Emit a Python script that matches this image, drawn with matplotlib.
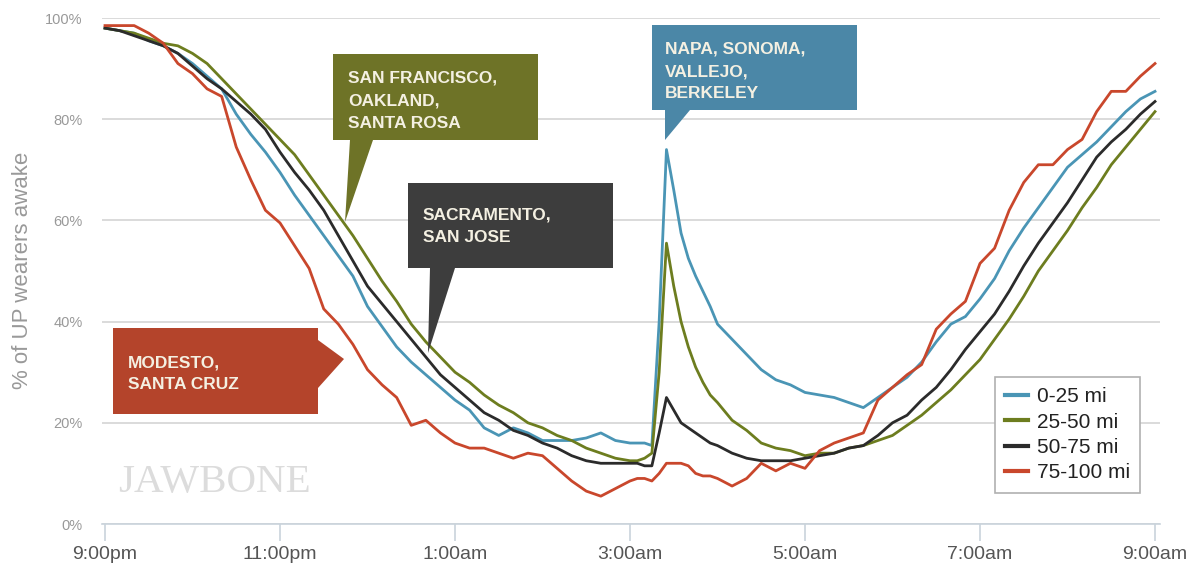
import matplotlib
matplotlib.use('Agg')
import matplotlib.pyplot as plt
from matplotlib.patches import Polygon
from matplotlib import font_manager

plt.rcParams['font.family'] = ['Liberation Sans', 'DejaVu Sans']

# minutes after 9:00pm
minutes = [0, 10, 20, 30, 40, 50, 60, 70, 80, 90, 100, 110, 120, 130, 140, 150, 160, 170,
           180, 190, 200, 210, 220, 230, 240, 250, 260, 270, 280, 290, 300, 310, 320, 330, 340, 350,
           360, 365, 370, 375, 380, 385, 390, 395, 400, 405, 410, 415, 420,
           430, 440, 450, 460, 470, 480, 490, 500, 510, 520, 530, 540, 550, 560, 570, 580,
           590, 600, 610, 620, 630, 640, 650, 660, 670, 680, 690, 700, 710, 720]

mi_0_25 = [98, 97.5, 97, 95.5, 94.5, 93, 91, 88.5, 86, 81, 77, 73.5, 69.5, 65, 61, 57, 53, 49,
           43, 39, 35, 32, 29.5, 27, 24.5, 22.5, 19, 17.5, 19, 18, 16.5, 16.5, 16.5, 17, 18, 16.5,
           16, 16, 16, 15.5, 40, 74, 66, 57.5, 52.5, 49, 46, 43, 39.5,
           36.5, 33.5, 30.5, 28.5, 27.5, 26, 25.5, 25, 24, 23, 25, 27, 29, 32, 36, 39.5,
           41, 44.5, 48.5, 54, 58.5, 62.5, 66.5, 70.5, 73, 75.5, 78.5, 81.5, 84, 85.5]

mi_25_50 = [98, 97.5, 97, 96, 95, 94.5, 93, 91, 88, 85, 82, 79, 76, 73, 69, 65, 61, 57,
            52.5, 48, 44, 39.5, 36, 33, 30, 28, 25.5, 23.5, 22, 20, 19, 17.5, 16.5, 15, 14, 13,
            12.5, 12.5, 13, 14, 30, 55.5, 47, 40, 35, 31, 28, 25.5, 24,
            20.5, 18.5, 16, 15, 14.5, 13.5, 14, 14, 15, 15.5, 16.5, 17.5, 19.5, 21.5, 24, 26.5,
            29.5, 32.5, 36.5, 40.5, 45, 50, 54, 58, 62.5, 66.5, 71, 74.5, 78, 81.5]

mi_50_75 = [98, 97.5, 96.5, 95.5, 94.5, 93, 90.5, 88, 86, 83.5, 81, 78, 73.5, 69.5, 66, 62, 57, 52,
            47, 43.5, 40, 36.5, 33, 29.5, 27, 24.5, 22, 20.5, 18.5, 17.5, 16, 15, 13.5, 12.5, 12, 12,
            12, 12, 11.5, 11.5, 18, 25, 22.5, 20, 19, 18, 17, 16, 15.5,
            14, 13, 12.5, 12.5, 12.5, 13, 13.5, 14, 15, 15.5, 17.5, 20, 21.5, 24.5, 27, 30.5,
            34.5, 38, 41.5, 46, 51, 55.5, 59.5, 63.5, 68, 72.5, 75.5, 78, 81, 83.5]

mi_75_100 = [98.5, 98.5, 98.5, 97, 95, 91, 89, 86, 84.5, 74.5, 68, 62, 59.5, 55, 50.5, 42.5, 39.5, 35.5,
             30.5, 27.5, 25, 19.5, 20.5, 18, 16, 15, 15, 14, 13, 14, 13.5, 11, 8.5, 6.5, 5.5, 7,
             8.5, 9, 9, 8.5, 10, 12, 12, 12, 11.5, 10, 9.5, 9.5, 9,
             7.5, 9, 12, 10.5, 12, 11, 14.5, 16, 17, 18, 24.5, 27, 29.5, 31.5, 38.5, 41.5,
             44, 51.5, 54.5, 62, 67.5, 71, 71, 74, 76, 81.5, 85.5, 85.5, 88.5, 91]

series_names = ['0-25 mi', '25-50 mi', '50-75 mi', '75-100 mi']
line_colors = ['#4a95b5', '#6d7d1f', '#2b2b2b', '#c9472c']

tick_hours = [0, 2, 4, 6, 8, 10, 12]
tick_labels = ['9:00pm', '11:00pm', '1:00am', '3:00am', '5:00am', '7:00am', '9:00am']
y_ticks = [0, 20, 40, 60, 80, 100]

W, H = 1189, 566

def px(x, y):
    return (x / W, 1 - y / H)

fig = plt.figure(figsize=(W / 100, H / 100), dpi=100)
ax = fig.add_axes([102 / W, 1 - 524 / H, (1160 - 102) / W, (524 - 18) / H])

hours = [m / 60 for m in minutes]
for vals, name, col in zip([mi_0_25, mi_25_50, mi_50_75, mi_75_100], series_names, line_colors):
    ax.plot(hours, vals, color=col, lw=2.0, label=name, solid_joinstyle='round')

ax.set_xlim(-3 / 87.5, 12 + 5 / 87.5)
ax.set_ylim(0, 100)
ax.set_xticks(tick_hours)
ax.set_xticklabels(tick_labels)
ax.set_yticks(y_ticks)
ax.set_yticklabels([f'{v}%' for v in y_ticks])
ax.yaxis.grid(True, color='#d4d4d4', lw=1.2)
ax.set_axisbelow(True)
for s in ['top', 'right', 'left']:
    ax.spines[s].set_visible(False)
ax.spines['bottom'].set_color('#c9d3dc')
ax.spines['bottom'].set_linewidth(1.2)
ax.tick_params(axis='x', length=12, width=1.2, color='#c9d3dc', labelsize=14,
               labelcolor='#555555', pad=4)
ax.tick_params(axis='y', length=0, labelsize=10.5, labelcolor='#999999', pad=14)

fig.text(23 / W, 1 - 270 / H, '% of UP wearers awake', rotation=90, ha='center', va='center',
         fontsize=16, color='#999999')

fig.text(118 / W, 1 - 492 / H, 'JAWBONE', family=['Liberation Serif', 'DejaVu Serif'],
         fontsize=29.5, color='#dcdcdc', ha='left', va='baseline')

leg = ax.legend(loc='upper left', bbox_to_anchor=((995 - 102) / 1058, (524 - 377) / 506),
                borderaxespad=0, fontsize=15, handlelength=1.1, handletextpad=0.4,
                labelspacing=0.3, borderpad=0.5, fancybox=False, framealpha=1)
leg.get_frame().set_edgecolor('#b0b0b0')
leg.get_frame().set_linewidth(1.2)
for h in leg.get_lines():
    h.set_linewidth(3)
for t in leg.get_texts():
    t.set_color('#222222')

names = {f.name for f in font_manager.fontManager.ttflist}
if 'Liberation Sans Narrow' in names:
    box_font, box_size = 'Liberation Sans Narrow', 14.5
else:
    box_font, box_size = 'Liberation Sans', 12.5

callouts = [
    ('#6e7327', [(333, 54), (538, 54), (538, 140), (373, 140), (345, 222), (350, 140), (333, 140)],
     348, [83, 105.5, 128], ['SAN FRANCISCO,', 'OAKLAND,', 'SANTA ROSA']),
    ('#3d3d3d', [(408, 183), (613, 183), (613, 268), (455, 268), (428, 353), (430, 268), (408, 268)],
     423, [220, 242.5], ['SACRAMENTO,', 'SAN JOSE']),
    ('#4b87a7', [(652, 25), (857, 25), (857, 110), (690, 110), (665, 140), (665, 110), (652, 110)],
     665, [53.5, 76, 98.5], ['NAPA, SONOMA,', 'VALLEJO,', 'BERKELEY']),
    ('#b4442b', [(113, 328), (318, 328), (318, 340), (344, 359), (318, 388), (318, 414), (113, 414)],
     128, [367, 389], ['MODESTO,', 'SANTA CRUZ']),
]
for col, pts, tx, baselines, lines in callouts:
    fig.add_artist(Polygon([px(x, y) for x, y in pts], closed=True, transform=fig.transFigure,
                           fc=col, ec='none', zorder=5))
    for by, line in zip(baselines, lines):
        fig.text(tx / W, 1 - by / H, line, family=[box_font, 'DejaVu Sans'], fontweight='bold',
                 fontsize=box_size, color='#f4f0e2', ha='left', va='baseline', zorder=6)

fig.savefig('out.png', dpi=100)
